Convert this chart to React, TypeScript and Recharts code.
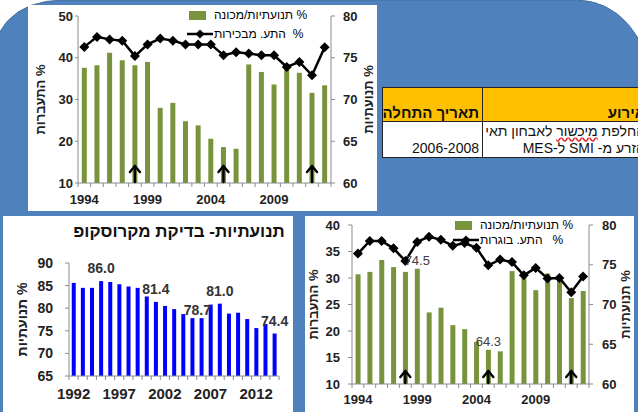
import React from "react";
import {
  Bar,
  BarChart,
  ComposedChart,
  LabelList,
  Legend,
  Line,
  ReferenceDot,
  XAxis,
  YAxis,
} from "recharts";

// herd data 1994-2013, shared by the two combo charts
const years = [
  1994, 1995, 1996, 1997, 1998, 1999, 2000, 2001, 2002, 2003,
  2004, 2005, 2006, 2007, 2008, 2009, 2010, 2011, 2012, 2013,
];
const motility = [
  73.8, 74.1, 75.6, 74.7, 74.1, 74.5, 69.0, 69.6, 67.4, 66.9,
  65.3, 64.3, 64.1, 74.2, 73.3, 71.8, 73.9, 73.2, 70.8, 71.7,
];
const heiferConception = [
  42.6, 45.0, 44.4, 44.1, 40.4, 43.2, 44.6, 44.1, 43.2, 43.2,
  43.2, 40.6, 41.3, 41.0, 40.6, 40.6, 37.8, 39.0, 35.8, 42.5,
];
const cowConception = [
  34.6, 37.0, 37.0, 35.6, 33.2, 36.8, 37.8, 37.2, 36.1, 36.6,
  35.7, 32.4, 33.5, 33.0, 30.5, 31.9, 29.9, 30.0, 27.3, 30.3,
];
const arrowYears = [1998, 2005, 2012];
const labeledYearsC = [1999, 2005];

// microscope motility 1992-2014
const scopeYears = [
  1992, 1993, 1994, 1995, 1996, 1997, 1998, 1999, 2000, 2001, 2002, 2003,
  2004, 2005, 2006, 2007, 2008, 2009, 2010, 2011, 2012, 2013, 2014,
];
const scopeMotility = [
  85.6, 84.5, 84.5, 86.0, 85.8, 85.3, 84.8, 84.5, 82.6, 81.4, 80.5, 79.8,
  78.7, 77.8, 77.8, 80.8, 81.0, 78.8, 79.0, 77.6, 75.6, 76.5, 74.4,
];
const scopeLabelYears = [1995, 2001, 2004, 2008, 2014];

const ticksA = [10, 15, 20, 25, 30, 35, 40, 45, 50];
const ticksC = [10, 15, 20, 25, 30, 35, 40];
const motilityTicks = [60, 65, 70, 75, 80];
const scopeTicks = [65, 70, 75, 80, 85, 90];

const tableHead = ["אירוע", "תאריך התחלה"];
const eventLines = ["החלפת", "מיכשור", "לאבחון תאי", "הזרע מ- SMI ל-MES"];
const eventDates = "2006-2008";

const FONT = "'Liberation Sans', Arial, 'DejaVu Sans', sans-serif";
const BLUE_BG = "#4f81bd";
const GREEN = "#77933c";
const AXIS = "#8c8c8c";
const INK = "#222";

const dataA = years.map((year, i) => ({
  year,
  motility: motility[i],
  conception: heiferConception[i],
}));
const dataC = years.map((year, i) => ({
  year,
  motility: motility[i],
  conception: cowConception[i],
}));
const dataB = scopeYears.map((year, i) => ({ year, value: scopeMotility[i] }));

const Diamond = (props: any) => {
  const { cx, cy } = props;
  if (cx == null || cy == null) return null;
  return (
    <path
      d={`M${cx},${cy - 5} L${cx + 5},${cy} L${cx},${cy + 5} L${cx - 5},${cy} Z`}
      fill="#000"
    />
  );
};

const makeArrow = (h: number, w: number) => (props: any) => {
  const { cx, cy } = props;
  return (
    <g stroke="#000" strokeWidth={2.4} fill="none" strokeLinecap="round" strokeLinejoin="round">
      <line x1={cx} y1={cy - 1} x2={cx} y2={cy - h} />
      <polyline points={`${cx - w},${cy - h + 6} ${cx},${cy - h} ${cx + w},${cy - h + 6}`} />
    </g>
  );
};

const makeYearTick =
  (gap: number, every: number, count: number, size: number) => (props: any) => {
    const { x, y, payload, index } = props;
    const half = payload?.offset ?? 0;
    const axisY = y - gap;
    return (
      <g>
        <line x1={x - half} x2={x - half} y1={axisY} y2={axisY + 4} stroke={AXIS} />
        {index === count - 1 && (
          <line x1={x + half} x2={x + half} y1={axisY} y2={axisY + 4} stroke={AXIS} />
        )}
        {index % every === 0 && (
          <text
            x={x}
            y={y}
            dy="0.71em"
            textAnchor="middle"
            fontSize={size}
            fontWeight="bold"
            fill={INK}
            fontFamily={FONT}
          >
            {payload.value}
          </text>
        )}
      </g>
    );
  };

const vTitle = (text: string, x: number, size: number) => (props: any) => {
  const vb = props.viewBox || {};
  const cy = (vb.y ?? 0) + (vb.height ?? 0) / 2;
  return (
    <text
      transform={`translate(${x}, ${cy}) rotate(-90)`}
      textAnchor="middle"
      dominantBaseline="central"
      fontSize={size}
      fontWeight="bold"
      fill={INK}
      fontFamily={FONT}
    >
      {text}
    </text>
  );
};

type LegendItem = { text: string; kind: "bar" | "line" };

function LegendBox({ items, rowH }: { items: LegendItem[]; rowH: number }) {
  return (
    <div style={{ fontFamily: FONT, fontSize: 12, color: "#000" }}>
      {items.map((it) => (
        <div key={it.text} style={{ display: "flex", alignItems: "center", height: rowH }}>
          <svg width={26} height={12} style={{ flex: "none" }}>
            {it.kind === "bar" ? (
              <rect x={2} y={2} width={17} height={9} fill={GREEN} />
            ) : (
              <g>
                <line x1={0} x2={26} y1={6} y2={6} stroke="#000" strokeWidth={2.5} />
                <path d="M13,1.5 L17.5,6 L13,10.5 L8.5,6 Z" fill="#000" />
              </g>
            )}
          </svg>
          <span dir="rtl" style={{ whiteSpace: "pre", marginLeft: 1 }}>
            {it.text}
          </span>
        </div>
      ))}
    </div>
  );
}

const legendA: LegendItem[] = [
  { text: "% תנועתיות/מכונה", kind: "bar" },
  { text: "%\u00a0\u00a0התע. מבכירות", kind: "line" },
];
const legendC: LegendItem[] = [
  { text: "% תנועתיות/מכונה", kind: "bar" },
  { text: "%\u00a0\u00a0\u00a0התע. בוגרות", kind: "line" },
];

const tickStyle = (size: number) => ({
  fill: INK,
  fontSize: size,
  fontWeight: "bold" as const,
  fontFamily: FONT,
});

function ChartA() {
  return (
    <ComposedChart
      width={349}
      height={206}
      data={dataA}
      margin={{ top: 11, right: 0, bottom: 0, left: 0 }}
      barCategoryGap="30%"
    >
      <XAxis
        dataKey="year"
        height={28}
        interval={0}
        tickSize={0}
        tickMargin={12}
        tickLine={false}
        axisLine={{ stroke: AXIS }}
        tick={makeYearTick(12, 5, years.length, 13)}
      />
      <YAxis
        yAxisId="left"
        width={50}
        domain={[10, 50]}
        ticks={ticksA}
        allowDataOverflow
        tickSize={3}
        tickMargin={2}
        tickLine={{ stroke: AXIS }}
        axisLine={{ stroke: AXIS }}
        tick={tickStyle(13)}
        label={{ content: vTitle("התעברות %", 12, 13) }}
      />
      <YAxis
        yAxisId="right"
        orientation="right"
        width={46}
        domain={[60, 80]}
        ticks={motilityTicks}
        allowDataOverflow
        tickSize={4}
        tickMargin={8}
        tickLine={{ stroke: AXIS }}
        axisLine={{ stroke: AXIS }}
        tick={tickStyle(13)}
        label={{ content: vTitle("תנועתיות %", 340, 13) }}
      />
      <Bar yAxisId="right" dataKey="motility" fill={GREEN} isAnimationActive={false} />
      <Line
        yAxisId="left"
        dataKey="conception"
        stroke="#000"
        strokeWidth={2.5}
        dot={<Diamond />}
        isAnimationActive={false}
      />
      {arrowYears.map((y) => (
        <ReferenceDot
          key={y}
          yAxisId="right"
          x={y}
          y={60}
          ifOverflow="visible"
          shape={makeArrow(17, 5)}
        />
      ))}
      <Legend
        layout="horizontal"
        verticalAlign="middle"
        align="center"
        wrapperStyle={{ left: 159, top: 0, width: 180, height: 40 }}
        content={() => <LegendBox items={legendA} rowH={19} />}
      />
    </ComposedChart>
  );
}

function ChartC() {
  return (
    <ComposedChart
      width={329}
      height={196}
      data={dataC}
      margin={{ top: 9, right: 0, bottom: 0, left: 0 }}
      barCategoryGap="30%"
    >
      <XAxis
        dataKey="year"
        height={28}
        interval={0}
        tickSize={0}
        tickMargin={11}
        tickLine={false}
        axisLine={{ stroke: AXIS }}
        tick={makeYearTick(11, 5, years.length, 13)}
      />
      <YAxis
        yAxisId="left"
        width={47}
        domain={[10, 40]}
        ticks={ticksC}
        allowDataOverflow
        tickSize={4}
        tickMargin={8}
        tickLine={{ stroke: AXIS }}
        axisLine={{ stroke: AXIS }}
        tick={tickStyle(13)}
        label={{ content: vTitle("התעברות %", 8, 13) }}
      />
      <YAxis
        yAxisId="right"
        orientation="right"
        width={45}
        domain={[60, 80]}
        ticks={motilityTicks}
        allowDataOverflow
        tickSize={4}
        tickMargin={9}
        tickLine={{ stroke: AXIS }}
        axisLine={{ stroke: AXIS }}
        tick={tickStyle(13)}
        label={{ content: vTitle("תנועתיות %", 320, 13) }}
      />
      <Bar yAxisId="right" dataKey="motility" fill={GREEN} isAnimationActive={false}>
        <LabelList
          dataKey="motility"
          content={(p: any) => {
            const year = years[p.index];
            if (!labeledYearsC.includes(year)) return null;
            return (
              <text
                x={p.x + p.width / 2}
                y={p.y - 4}
                textAnchor="middle"
                fontSize={13}
                fill="#404040"
                fontFamily={FONT}
              >
                {Number(p.value).toFixed(1)}
              </text>
            );
          }}
        />
      </Bar>
      <Line
        yAxisId="left"
        dataKey="conception"
        stroke="#000"
        strokeWidth={2.5}
        dot={<Diamond />}
        isAnimationActive={false}
      />
      {arrowYears.map((y) => (
        <ReferenceDot
          key={y}
          yAxisId="right"
          x={y}
          y={60}
          ifOverflow="visible"
          shape={makeArrow(13, 5)}
        />
      ))}
      <Legend
        layout="horizontal"
        verticalAlign="middle"
        align="center"
        wrapperStyle={{ left: 148, top: 1, width: 180, height: 32 }}
        content={() => <LegendBox items={legendC} rowH={15} />}
      />
    </ComposedChart>
  );
}

const scopeNudge: Record<number, [number, number]> = { 2004: [14, 9] };

function ChartB() {
  return (
    <BarChart
      width={290}
      height={196}
      data={dataB}
      margin={{ top: 47, right: 14, bottom: 0, left: 0 }}
      barCategoryGap="30%"
    >
      <XAxis
        dataKey="year"
        height={36}
        interval={0}
        tickSize={0}
        tickMargin={12}
        tickLine={false}
        axisLine={{ stroke: AXIS }}
        tick={makeYearTick(12, 5, scopeYears.length, 15)}
      />
      <YAxis
        width={66}
        domain={[65, 90]}
        ticks={scopeTicks}
        allowDataOverflow
        tickSize={4}
        tickMargin={12}
        tickLine={{ stroke: AXIS }}
        axisLine={{ stroke: AXIS }}
        tick={tickStyle(14)}
        label={{ content: vTitle("תנועתיות %", 19, 14) }}
      />
      <Bar dataKey="value" fill="#0000ff" isAnimationActive={false}>
        <LabelList
          dataKey="value"
          content={(p: any) => {
            const year = scopeYears[p.index];
            if (!scopeLabelYears.includes(year)) return null;
            const [dx, dy] = scopeNudge[year] ?? [0, 0];
            return (
              <text
                x={p.x + p.width / 2 + dx}
                y={p.y - 8 + dy}
                textAnchor="middle"
                fontSize={14}
                fontWeight="bold"
                fill="#333"
                fontFamily={FONT}
              >
                {Number(p.value).toFixed(1)}
              </text>
            );
          }}
        />
      </Bar>
    </BarChart>
  );
}

const panel = (left: number, top: number, width: number, height: number) => ({
  position: "absolute" as const,
  left,
  top,
  width,
  height,
  background: "#fff",
});

const cell = {
  border: "1.3px solid #222",
  padding: "0 3px",
  verticalAlign: "bottom" as const,
  textAlign: "right" as const,
  whiteSpace: "nowrap" as const,
  overflow: "hidden",
};

export default function App() {
  return (
    <div
      style={{
        position: "absolute",
        left: 0,
        top: 0,
        width: 638,
        height: 412,
        overflow: "hidden",
        background: "#fff",
        fontFamily: FONT,
      }}
    >
      <svg width={638} height={412} style={{ position: "absolute", left: 0, top: 0 }}>
        <path
          d="M -12,420 L -12,85 Q -12,0 65,0 L 575,0 Q 640,0 660,100 L 660,420 Z"
          fill={BLUE_BG}
          stroke="#41719c"
        />
      </svg>

      <div style={panel(28, 5, 349, 206)}>
        <ChartA />
      </div>

      <table
        dir="rtl"
        style={{
          position: "absolute",
          left: 382,
          top: 87,
          width: 266,
          borderCollapse: "collapse",
          tableLayout: "fixed",
          fontFamily: FONT,
          color: "#111",
        }}
      >
        <colgroup>
          <col style={{ width: 166 }} />
          <col style={{ width: 100 }} />
        </colgroup>
        <tbody>
          <tr style={{ height: 34, background: "#ffc000" }}>
            {tableHead.map((h) => (
              <td key={h} style={{ ...cell, fontSize: 15, fontWeight: "bold", lineHeight: "17px" }}>
                {h}
              </td>
            ))}
          </tr>
          <tr style={{ height: 36, background: "#fff" }}>
            <td style={{ ...cell, fontSize: 14, lineHeight: "17px" }}>
              {eventLines[0]}{" "}
              <span style={{ textDecoration: "underline wavy #e02020" }}>{eventLines[1]}</span>{" "}
              {eventLines[2]}
              <br />
              {eventLines[3]}
            </td>
            <td style={{ ...cell, fontSize: 14, lineHeight: "17px" }}>{eventDates}</td>
          </tr>
        </tbody>
      </table>

      <div style={panel(3, 216, 290, 200)}>
        <div
          dir="rtl"
          style={{
            position: "absolute",
            left: 52,
            top: 6,
            width: 248,
            textAlign: "center",
            fontSize: 17,
            fontWeight: "bold",
            color: "#111",
          }}
        >
          תנועתיות- בדיקת מקרוסקופ
        </div>
        <ChartB />
      </div>

      <div style={panel(305, 216, 329, 200)}>
        <ChartC />
      </div>
    </div>
  );
}
